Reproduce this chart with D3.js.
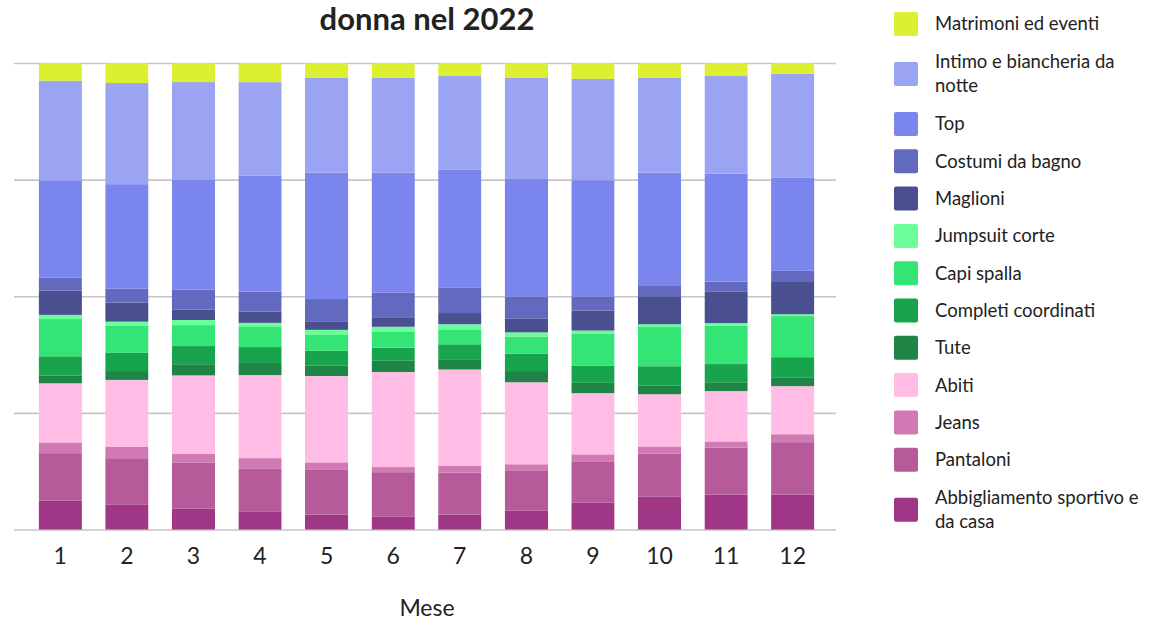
<!DOCTYPE html>
<html>
<head>
<meta charset="utf-8">
<script src="https://cdn.jsdelivr.net/npm/d3@7"></script>
<style>
	body { margin: 0; background: #fff; }
	text { font-family: Lato, 'Open Sans', sans-serif; }
</style>
</head>
<body>
<div id="chart"></div>
<script>
const months = [1, 2, 3, 4, 5, 6, 7, 8, 9, 10, 11, 12]

// shares per month (%)
const sportivo = [6.2, 5.4, 4.5, 3.9, 3.2, 2.8, 3.2, 4.1, 5.8, 7.1, 7.5, 7.5]
const pantaloni = [10.2, 9.9, 9.9, 9.2, 9.7, 9.5, 9.0, 8.6, 8.8, 9.2, 10.1, 11.2]
const jeans = [2.3, 2.4, 1.9, 2.2, 1.5, 1.1, 1.5, 1.3, 1.5, 1.5, 1.3, 1.7]
const abiti = [12.7, 14.4, 16.8, 17.8, 18.5, 20.4, 20.6, 17.6, 13.1, 11.2, 10.8, 10.3]
const tute = [1.7, 1.9, 2.4, 2.6, 2.2, 2.4, 2.2, 2.4, 2.2, 1.9, 1.9, 1.9]
const completi = [4.1, 3.9, 3.9, 3.4, 3.2, 2.8, 3.2, 3.7, 3.7, 4.1, 3.9, 4.3]
const capiSpalla = [8.0, 5.8, 4.5, 4.3, 3.4, 3.4, 3.2, 3.7, 6.9, 8.4, 8.2, 8.8]
const jumpsuit = [0.9, 0.9, 1.1, 0.9, 1.1, 1.1, 1.1, 0.9, 0.6, 0.6, 0.6, 0.4]
const maglioni = [5.2, 4.1, 2.2, 2.4, 1.7, 1.9, 2.4, 3.0, 4.3, 6.0, 6.7, 6.9]
const costumi = [2.8, 3.0, 4.3, 4.3, 4.9, 5.4, 5.4, 4.7, 3.0, 2.2, 2.2, 2.4]
const topCapi = [20.9, 22.4, 23.7, 24.9, 27.1, 25.8, 25.4, 25.2, 24.9, 24.3, 23.2, 20.0]
const intimo = [21.4, 21.7, 20.9, 20.0, 20.3, 20.3, 20.0, 21.7, 21.7, 20.3, 20.9, 22.2]
const matrimoni = [3.8, 4.3, 4.1, 4.1, 3.2, 3.2, 2.8, 3.2, 3.4, 3.2, 2.8, 2.3]

// bottom to top
const categories = ['Abbigliamento sportivo e da casa', 'Pantaloni', 'Jeans', 'Abiti', 'Tute',
	'Completi coordinati', 'Capi spalla', 'Jumpsuit corte', 'Maglioni', 'Costumi da bagno',
	'Top', 'Intimo e biancheria da notte', 'Matrimoni ed eventi']
const values = [sportivo, pantaloni, jeans, abiti, tute, completi, capiSpalla, jumpsuit,
	maglioni, costumi, topCapi, intimo, matrimoni]
const colors = ['#a03686', '#b65a9a', '#d079b2', '#ffbde5', '#1f8546', '#18a44d', '#34e474',
	'#6bfd9a', '#4a4f8f', '#6269be', '#7b85ee', '#9aa4f2', '#dcef30']

const yTicks = [0, 0.25, 0.5, 0.75, 1]

const W = 1158, H = 620

const data = months.map((m, i) => {
	const row = { mese: m }
	categories.forEach((c, k) => { row[c] = values[k][i] })
	return row
})

const series = d3.stack()
	.keys(categories)
	.offset(d3.stackOffsetExpand)(data)

const color = d3.scaleOrdinal().domain(categories).range(colors)

const svg = d3.select('#chart')
	.append('svg')
	.attr('width', W)
	.attr('height', H)

const x = d3.scaleBand()
	.domain(months)
	.range([27, 826])
	.paddingInner(0.35)
	.paddingOuter(0.175)

const y = d3.scaleLinear()
	.domain([0, 1])
	.range([529.5, 63])

// grid
svg.append('g')
	.attr('transform', 'translate(14,0)')
	.call(d3.axisLeft(y).tickValues(yTicks).tickSize(-822).tickFormat(''))
	.call(g => g.select('.domain').remove())
	.selectAll('.tick line')
	.attr('stroke', '#c6c6c6')
	.attr('stroke-width', 1.6)

// rounded top for each bar
const defs = svg.append('defs')
defs.selectAll('clipPath')
	.data(months)
	.join('clipPath')
	.attr('id', d => 'clip' + d)
	.append('rect')
	.attr('x', d => x(d))
	.attr('y', y(1))
	.attr('width', x.bandwidth())
	.attr('height', y(0) - y(1) + 6)
	.attr('rx', 3)

svg.append('g')
	.selectAll('g')
	.data(series)
	.join('g')
	.attr('fill', d => color(d.key))
	.selectAll('rect')
	.data(d => d)
	.join('rect')
	.attr('clip-path', d => `url(#clip${d.data.mese})`)
	.attr('x', d => x(d.data.mese))
	.attr('y', d => y(d[1]))
	.attr('height', d => y(d[0]) - y(d[1]))
	.attr('width', x.bandwidth())

// x axis
svg.append('g')
	.attr('transform', `translate(0,${y(0)})`)
	.call(d3.axisBottom(x).tickSize(0).tickPadding(18))
	.call(g => g.select('.domain').remove())
	.selectAll('text')
	.attr('font-family', 'Lato, sans-serif')
	.attr('font-size', 23)
	.attr('fill', '#222')

svg.append('text')
	.attr('x', 427)
	.attr('y', 616)
	.attr('text-anchor', 'middle')
	.attr('font-size', 23)
	.attr('fill', '#222')
	.text('Mese')

svg.append('text')
	.attr('x', 427)
	.attr('y', 30)
	.attr('text-anchor', 'middle')
	.attr('font-size', 31)
	.attr('font-weight', 'bold')
	.attr('fill', '#222')
	.text('donna nel 2022')

// legend, top to bottom
const legend = svg.append('g')
	.attr('font-size', 18.5)
	.attr('fill', '#222')

const lh = 24
let cy = 24, prevExtra = 0
categories.slice().reverse().forEach((c, idx) => {
	const g = legend.append('g')
	const t = g.append('text')
	const words = c.split(' ')
	let lines = [], cur = []
	const probe = t.append('tspan')
	words.forEach(w => {
		probe.text(cur.concat(w).join(' '))
		if (probe.node().getComputedTextLength() > 212 && cur.length) {
			lines.push(cur.join(' '))
			cur = [w]
		} else {
			cur.push(w)
		}
	})
	lines.push(cur.join(' '))
	probe.remove()

	const extra = (lines.length - 1) * 12.7
	if (idx > 0) cy += 37.3 + prevExtra + extra
	prevExtra = extra

	lines.forEach((l, i) => {
		t.append('tspan')
			.attr('x', 935)
			.attr('y', cy - (lines.length - 1) * lh / 2 + i * lh)
			.attr('dy', '0.35em')
			.text(l)
	})
	g.append('rect')
		.attr('x', 894)
		.attr('y', cy - 12)
		.attr('width', 24)
		.attr('height', 24)
		.attr('rx', 2)
		.attr('fill', color(c))
})
</script>
</body>
</html>
